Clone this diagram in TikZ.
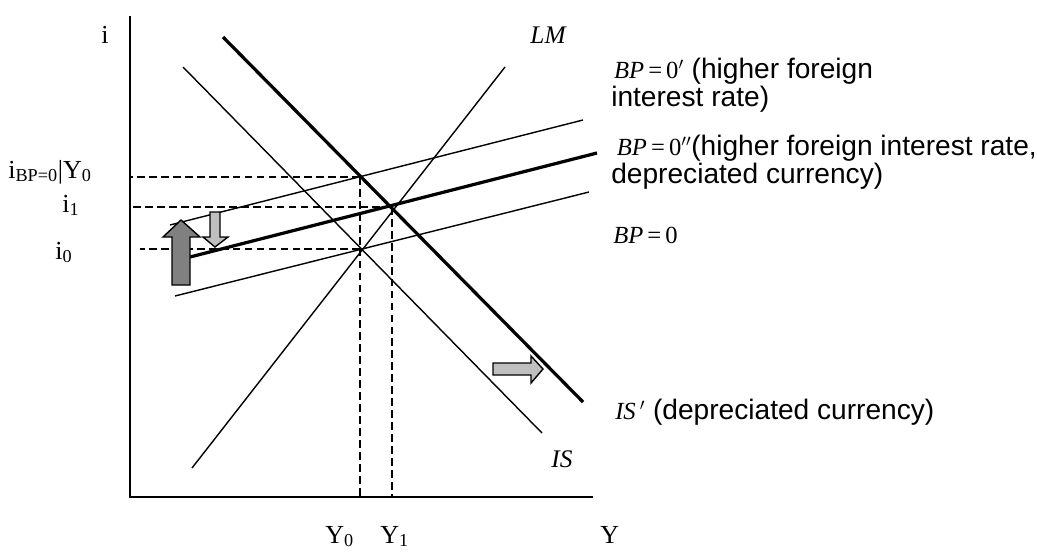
\documentclass[tikz,border=0pt]{standalone}
\usepackage{fontspec}
\setmainfont{Liberation Serif}
\newfontfamily\arialfont{Liberation Sans}
\usetikzlibrary{positioning}

\newcommand{\bpeq}[1]{{\rmfamily\fontsize{17.5}{20}\selectfont\textit{BP}\,=\,0#1}}
\newcommand{\isprime}{{\rmfamily\fontsize{17.5}{20}\selectfont\textit{IS}\,$'$}}

\begin{document}
\begin{tikzpicture}[x=0.025cm, y=-0.025cm]
  \tikzset{
    axis/.style={line width=1.4pt},
    curve/.style={line width=1pt},
    thickcurve/.style={line width=2.3pt},
    guide/.style={line width=1pt, dash pattern=on 5.5pt off 3pt},
    blockarrow/.style={draw, line width=1pt, line join=miter},
    lbl/.style={font=\fontsize{18.5}{21}\selectfont, inner sep=0pt},
    curvelbl/.style={font=\fontsize{18}{21}\selectfont\itshape, inner sep=0pt},
    note/.style={font=\arialfont\fontsize{20}{17.8}\selectfont, inner sep=0pt,
      anchor=north west, align=left}
  }
  \useasboundingbox (0,0) rectangle (1037,554);

  % Axes
  \coordinate (O) at (130,497);
  \coordinate (ytop) at (130,16);
  \coordinate (xend) at (593,497);
  \draw[axis] (ytop) -- (O) -- (xend);

  % Curve end points
  \coordinate (LMa) at (192,468);  \coordinate (LMb) at (505,67);
  \coordinate (ISa) at (183,67);   \coordinate (ISb) at (542,433);
  \coordinate (ISpa) at (223,37);  \coordinate (ISpb) at (583,402);
  \coordinate (BPa) at (175,296);  \coordinate (BPb) at (589,192);
  \coordinate (BPpa) at (170,225); \coordinate (BPpb) at (583,120);
  \coordinate (BPqa) at (190,257); \coordinate (BPqb) at (597,153);

  % Equilibria
  \coordinate (E0) at (360,249);
  \coordinate (E1) at (392,207);
  \coordinate (Ep) at (360,177);

  % Guide lines
  \draw[guide] (Ep) -- (Ep -| O);
  \draw[guide] (E1) -- (E1 -| O);
  \draw[guide] (E0) -- ++(-220,0);
  \draw[guide] (Ep) -- (Ep |- O);
  \draw[guide] (E1) -- (E1 |- O);

  % Curves
  \draw[curve] (LMa) -- (LMb);
  \draw[curve] (ISa) -- (ISb);
  \draw[thickcurve] (ISpa) -- (ISpb);
  \draw[curve] (BPa) -- (BPb);
  \draw[curve] (BPpa) -- (BPpb);
  \draw[thickcurve] (BPqa) -- (BPqb);

  % Shift arrows
  \draw[blockarrow, fill=black!50] (172,285) -- (172,237) -- (163,237) -- (181,220)
    -- (200,237) -- (190,237) -- (190,285) -- cycle;
  \draw[blockarrow, fill=black!25] (210,212) -- (210,237) -- (203,237) -- (215,247)
    -- (228,237) -- (220,237) -- (220,212) -- cycle;
  \draw[blockarrow, fill=black!25] (493,363) -- (531,363) -- (531,356) -- (543,369)
    -- (531,383) -- (531,375) -- (493,375) -- cycle;

  % Axis labels
  \node[lbl, anchor=base] (ilbl) at (105,43) {i};
  \node[lbl, anchor=base west] (ibp) at (8,178) {i\textsubscript{BP=0}|Y\textsubscript{0}};
  \node[lbl, anchor=base west] (ione) at (62,212) {i\textsubscript{1}};
  \node[lbl, anchor=base west] (izero) at (55,259) {i\textsubscript{0}};
  \node[lbl, anchor=base west] (yzero) at (325,543) {Y\textsubscript{0}};
  \node[lbl, anchor=base west] (yone) at (380,543) {Y\textsubscript{1}};
  \node[lbl, anchor=base west] (ylbl) at (600,543) {Y};

  % Curve labels
  \node[curvelbl] (lmlbl) at (548,35) {LM};
  \node[curvelbl] (islbl) at (562,459) {IS};
  \node[note] (bpone) at (611,58) {\hspace*{2pt}\bpeq{$'$} (higher foreign\\interest rate)};
  \node[note] (bptwo) at (611,135) {\hspace*{4pt}\bpeq{$''$}(higher foreign interest rate,\\depreciated currency)};
  \node[note, anchor=west] (bpzero) at (613,235) {\bpeq{}};
  \node[note, anchor=west] (isnote) at (615,412) {\isprime\ (depreciated currency)};
\end{tikzpicture}
\end{document}
